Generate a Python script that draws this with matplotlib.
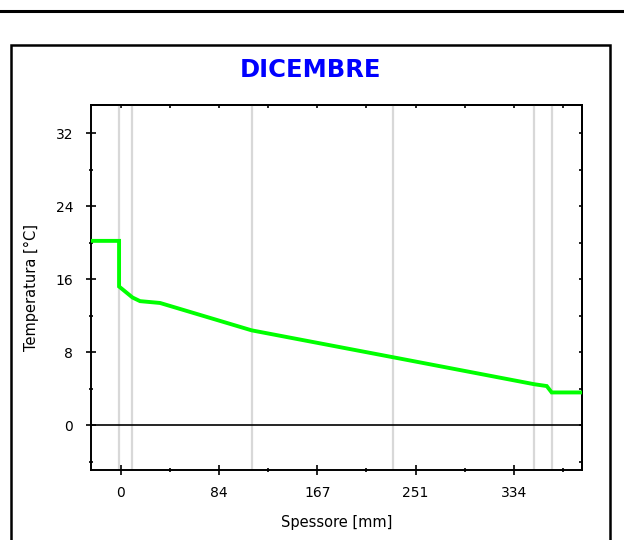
import matplotlib
matplotlib.use("Agg")
import matplotlib.pyplot as plt
from matplotlib.lines import Line2D
from matplotlib.patches import Rectangle

# temperature profile through the wall (December)
spessore = [-25.5, -1.4, -1.4, 10.0, 16.4, 33.4, 111.3, 231.6, 351.4, 362.0, 366.2, 391.7]
temperatura = [20.2, 20.2, 15.2, 14.0, 13.6, 13.4, 10.4, 7.45, 4.5, 4.3, 3.6, 3.6]

# layer boundaries (gray lines)
strati = [-1.4, 10.0, 111.3, 231.6, 351.4, 366.2]

x_ticks = [0, 83.5, 167, 250.5, 334]
x_labels = ["0", "84", "167", "251", "334"]
x_minor = [41.75, 125.25, 208.75, 292.25, 375.75]
y_ticks = [0, 8, 16, 24, 32]
y_minor = [-4, 4, 12, 20, 28]

W, H = 624, 540
fig = plt.figure(figsize=(W / 100, H / 100), dpi=100)

# top rule and outer frame
fig.add_artist(Line2D([0, 1], [1 - 11 / H, 1 - 11 / H], color="black", lw=2.2,
                      transform=fig.transFigure))
fig.add_artist(Rectangle((11 / W, -0.05), (610 - 11) / W, 1 - 45 / H + 0.05,
                         fill=False, ec="black", lw=1.8, transform=fig.transFigure))

ax = fig.add_axes([90.7 / W, 1 - 469.7 / H, (581.7 - 90.7) / W, (469.7 - 105) / H])

for s in strati:
    ax.axvline(s, color="#d8d8d8", lw=1.6, zorder=1)
ax.axhline(0, color="black", lw=1.2, zorder=2)
ax.plot(spessore, temperatura, color="#00ff00", lw=2.8, zorder=3,
        solid_joinstyle="miter")

ax.set_xlim(-25.5, 391.7)
ax.set_ylim(-4.86, 35.08)

ax.set_xticks(x_ticks)
ax.set_xticklabels(x_labels)
ax.set_xticks(x_minor, minor=True)
ax.set_yticks(y_ticks)
ax.set_yticks(y_minor, minor=True)

ax.tick_params(which="major", direction="inout", length=7, width=1.2,
               labelsize=10, colors="black")
ax.tick_params(axis="x", which="major", pad=8)
ax.tick_params(axis="y", which="major", pad=9)
ax.tick_params(which="minor", direction="inout", length=3.5, width=1.2)

# small inward ticks on top and right
top = ax.secondary_xaxis("top")
top.set_xticks(x_ticks + x_minor)
top.set_xticklabels([])
top.tick_params(direction="in", length=2.5, width=1.2)
right = ax.secondary_yaxis("right")
right.set_yticks(y_ticks + y_minor)
right.set_yticklabels([])
right.tick_params(direction="in", length=2.5, width=1.2)

for sp in list(ax.spines.values()) + [top.spines["top"], right.spines["right"]]:
    sp.set_linewidth(1.4)

ax.set_xlabel("Spessore [mm]", fontsize=10.5, labelpad=11)
ax.set_ylabel("Temperatura [°C]", fontsize=10.5, labelpad=12)

fig.text(310.5 / W, 1 - 70 / H, "DICEMBRE", color="#0000ff", fontsize=17.5,
         fontweight="bold", ha="center", va="center")

fig.savefig("out.png", dpi=100)
